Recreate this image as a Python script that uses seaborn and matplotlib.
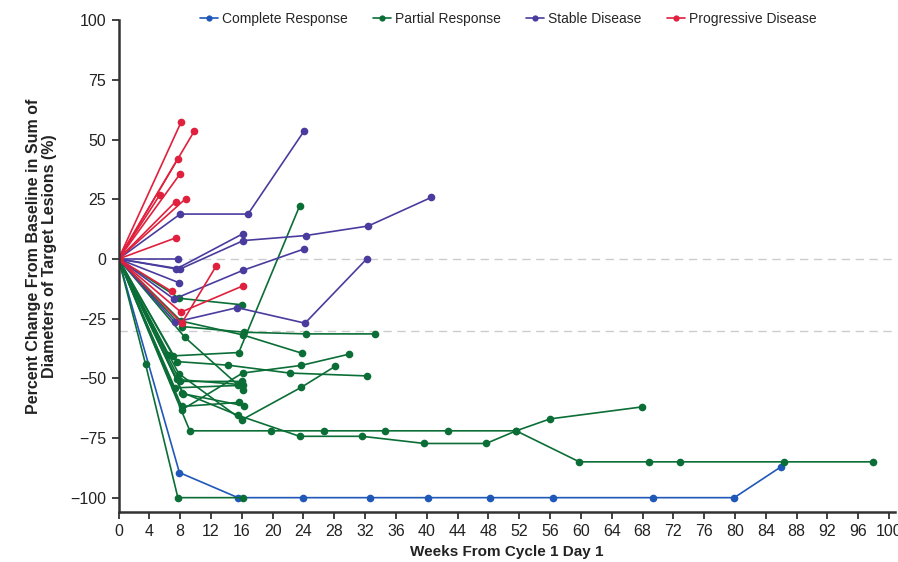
import numpy as np
import pandas as pd
import matplotlib
matplotlib.use("Agg")
import matplotlib.pyplot as plt
from matplotlib.lines import Line2D
import seaborn as sns

# ── Data ─────────────────────────────────────────────────────────────────────
RESPONSES = ["Complete Response", "Partial Response", "Stable Disease", "Progressive Disease"]
COLORS = {
    "Complete Response":   "#1f58b8",
    "Partial Response":    "#0b6e36",
    "Stable Disease":      "#4a3c9e",
    "Progressive Disease": "#e0203c",
}

complete_weeks = [[0, 7.9, 15.5, 24.0, 32.6, 40.2, 48.2, 56.4, 69.4, 79.9, 86.0]]
complete_pct = [[0, -89.5, -100, -100, -100, -100, -100, -100, -100, -100, -87]]

partial_weeks = [
    [0, 3.5, 7.7, 16.2],
    [0, 9.25, 19.8, 26.6, 34.6, 42.7, 51.6, 56.0, 67.9],
    [0, 8.3, 15.5, 23.5, 31.6, 39.7, 47.7, 51.6, 59.8, 68.9, 72.9, 86.3, 97.9],
    [0, 7.9, 16.0],
    [0, 8.2, 16.3, 24.3, 33.3],
    [0, 8.1, 16.1, 23.8],
    [0, 7.1, 15.6, 23.5],
    [0, 7.6, 14.2, 22.2, 32.2],
    [0, 6.4],
    [0, 8.0, 16.0],
    [0, 7.3, 15.5],
    [0, 7.8, 16.0, 23.7, 28.1],
    [0, 8.2, 15.6],
    [0, 8.2, 16.1, 23.7, 29.9],
    [0, 8.6, 16.2],
    [0, 8.4, 16.3],
    [0, 7.6, 16.1],
]
partial_pct = [
    [0, -44, -100, -100],
    [0, -72, -72, -72, -72, -72, -72, -67, -62],
    [0, -56, -65.5, -74.3, -74.3, -77.3, -77.3, -72, -85, -85, -85, -85, -85],
    [0, -16.5, -19.2],
    [0, -28.3, -30.7, -31.4, -31.4],
    [0, -26, -31.8, -39.5],
    [0, -40.6, -39.2, 22.2],
    [0, -43, -44.5, -47.8, -49],
    [0, -40.3],
    [0, -51.3, -51.3],
    [0, -54, -53],
    [0, -48, -67.4, -53.8, -45],
    [0, -61.8, -60.1],
    [0, -63.2, -47.8, -44.6, -39.9],
    [0, -32.8, -54.8],
    [0, -56.5, -61.5],
    [0, -50.5, -52.7],
]

stable_weeks = [
    [0, 8.0, 16.8, 24.1],
    [0, 7.7],
    [0, 7.5, 16.1],
    [0, 8.0, 16.2, 24.3, 32.4, 40.6],
    [0, 7.8],
    [0, 7.2, 16.2, 24.1],
    [0, 7.3, 15.4, 24.2, 32.2],
]
stable_pct = [
    [0, 18.8, 18.8, 53.7],
    [0, 0],
    [0, -4.2, 10.5],
    [0, -4.2, 7.7, 9.8, 13.8, 25.8],
    [0, -9.9],
    [0, -16.8, -4.7, 4.2],
    [0, -26.5, -20.4, -26.9, 0],
]

progressive_weeks = [
    [0, 8.1], [0, 9.8], [0, 7.7], [0, 8.0], [0, 5.35], [0, 7.4],
    [0, 8.7], [0, 7.4], [0, 6.9], [0, 8.2, 12.7], [0, 8.1, 16.2],
]
progressive_pct = [
    [0, 57.2], [0, 53.4], [0, 42.0], [0, 35.7], [0, 26.8], [0, 24.0],
    [0, 25.2], [0, 8.8], [0, -13.6], [0, -26.9, -2.8], [0, -22.3, -11.2],
]

X_TICKS = list(range(0, 97, 4)) + [100]
Y_TICKS = [-100, -75, -50, -25, 0, 25, 50, 75, 100]

# ── Long table for seaborn ───────────────────────────────────────────────────
rows = []
pid = 0
for resp, weeks, pcts in [
    ("Complete Response", complete_weeks, complete_pct),
    ("Partial Response", partial_weeks, partial_pct),
    ("Stable Disease", stable_weeks, stable_pct),
    ("Progressive Disease", progressive_weeks, progressive_pct),
]:
    for wk, pc in zip(weeks, pcts):
        pid += 1
        for a, b in zip(wk, pc):
            rows.append({"patient": pid, "response": resp, "week": a, "pct": b})
df = pd.DataFrame(rows)

# ── Figure ───────────────────────────────────────────────────────────────────
sns.set_style("white")
plt.rcParams["font.family"] = ["Liberation Sans", "DejaVu Sans"]

fig = plt.figure(figsize=(8.98, 5.62), dpi=100)
ax = fig.add_axes([0.132, 0.089, 0.865, 0.875])

for y in (0, -30):
    ax.axhline(y, color="#cccccc", lw=1.0, ls=(0, (6, 4)), zorder=0)

sns.lineplot(
    data=df, x="week", y="pct", hue="response", units="patient",
    estimator=None, sort=False, hue_order=RESPONSES, palette=COLORS,
    marker="o", markersize=5.5, markeredgewidth=0, linewidth=1.2,
    legend=False, ax=ax,
)

ax.set_xlim(0, 100.8)
ax.set_ylim(-106, 100)
ax.set_xticks(X_TICKS)
ax.set_yticks(Y_TICKS)
ax.tick_params(axis="both", direction="out", length=5, width=1.3,
               color="#333333", labelsize=11.5, labelcolor="#222222",
               bottom=True, left=True, pad=4)
for side in ("top", "right"):
    ax.spines[side].set_visible(False)
for side in ("left", "bottom"):
    ax.spines[side].set_color("#333333")
    ax.spines[side].set_linewidth(1.8)

ax.set_xlabel("Weeks From Cycle 1 Day 1", fontsize=11, fontweight="bold",
              color="#222222")
ax.xaxis.set_label_coords(0.5, -0.068)
ax.set_ylabel("Percent Change From Baseline in Sum of\nDiameters of Target Lesions (%)",
              fontsize=11.5, fontweight="bold", color="#222222",
              linespacing=1.1)
ax.yaxis.set_label_coords(-0.079, 0.52)

handles = [
    Line2D([0], [0], color=COLORS[r], marker="o", markersize=4.5,
           markeredgewidth=0, lw=1.2, label=r)
    for r in RESPONSES
]
fig.legend(handles=handles, loc="center", bbox_to_anchor=(0.566, 0.966),
           ncol=4, frameon=False, fontsize=10, handlelength=1.3,
           handletextpad=0.3, columnspacing=1.8)

fig.savefig("out.png", dpi=100)
plt.close(fig)
